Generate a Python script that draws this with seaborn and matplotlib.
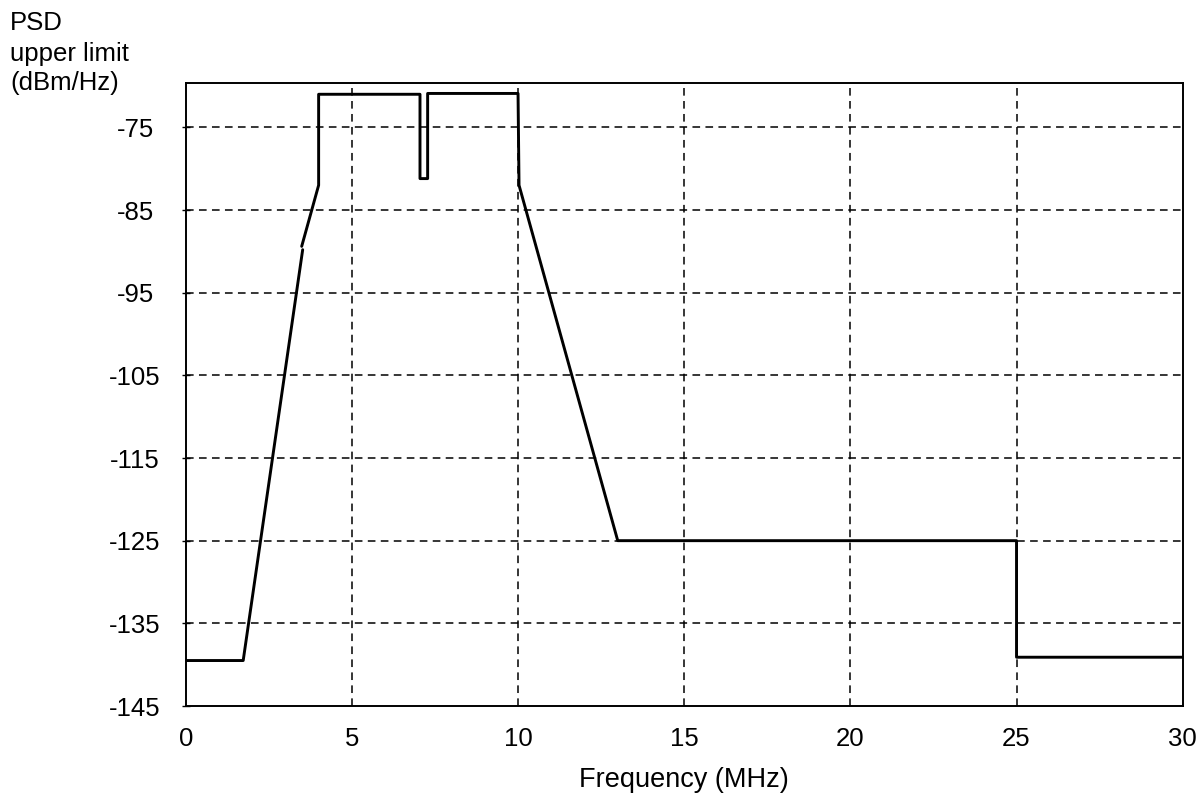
import numpy as np
import pandas as pd
import matplotlib
matplotlib.use("Agg")
import matplotlib.pyplot as plt
import seaborn as sns

# ---- data ----
seg_a_freq = [0.0, 1.73, 3.52]
seg_a_psd = [-139.5, -139.5, -89.8]
seg_b_freq = [3.49, 4.0, 4.0, 7.05, 7.05, 7.28, 7.28, 10.0, 10.03, 13.0, 25.0, 25.0, 30.0]
seg_b_psd = [-89.4, -82.0, -71.0, -71.0, -81.2, -81.2, -70.9, -70.9, -82.0, -125.0, -125.0, -139.1, -139.1]
x_ticks = [0, 5, 10, 15, 20, 25, 30]
y_ticks = [-75, -85, -95, -105, -115, -125, -135, -145]
ylabel_lines = ["PSD", "upper limit", "(dBm/Hz)"]
xlabel = "Frequency (MHz)"

df = pd.DataFrame({
    "freq": seg_a_freq + seg_b_freq,
    "psd": seg_a_psd + seg_b_psd,
    "seg": ["a"] * len(seg_a_freq) + ["b"] * len(seg_b_freq),
})

sns.set_theme(style="white")
plt.rcParams["font.family"] = ["Liberation Sans", "DejaVu Sans"]

W, H = 1196, 796
fig = plt.figure(figsize=(W / 100, H / 100), dpi=100)
ax_l, ax_r, ax_t, ax_b = 185.7, 1182.7, 82.7, 706.0
ax = fig.add_axes([ax_l / W, 1 - ax_b / H, (ax_r - ax_l) / W, (ax_b - ax_t) / H])

sns.lineplot(data=df, x="freq", y="psd", units="seg", estimator=None, sort=False,
             color="black", linewidth=2.1, ax=ax, legend=False)

ax.set_xlim(0, 30)
ax.set_ylim(-145, -69.6)
ax.set_xticks(x_ticks)
ax.set_yticks(y_ticks)
ax.set_xticklabels([str(v) for v in x_ticks], fontsize=18.5)
ax.set_yticklabels([str(v) for v in y_ticks], fontsize=18.5)
for lab in ax.get_yticklabels():
    lab.set_horizontalalignment("center")

for v in x_ticks[1:-1]:
    ax.axvline(v, color="black", linewidth=1.1, linestyle=(0, (5, 3.5)), zorder=0.5)
for v in y_ticks[:-1]:
    ax.axhline(v, color="black", linewidth=1.1, linestyle=(0, (5, 3.5)), zorder=0.5)

ax.tick_params(axis="y", direction="inout", length=6, width=1, color="black",
               pad=33.5, labelcolor="black", left=True)
ax.tick_params(axis="x", length=0, pad=15, labelcolor="black", bottom=True)

for s in ax.spines.values():
    s.set_visible(True)
    s.set_color("black")
    s.set_linewidth(1.4)

ax.set_xlabel("")
ax.set_ylabel("")
ax.grid(False)

for txt, base in zip(ylabel_lines, [30, 61, 90]):
    fig.text(10 / W, 1 - base / H, txt, fontsize=18.5, ha="left", va="baseline", color="black")
fig.text((ax_l + ax_r) / 2 / W, 1 - 780 / H, xlabel, fontsize=19.5, ha="center",
         va="center", color="black")

fig.savefig("out.png", dpi=100, facecolor="white")
